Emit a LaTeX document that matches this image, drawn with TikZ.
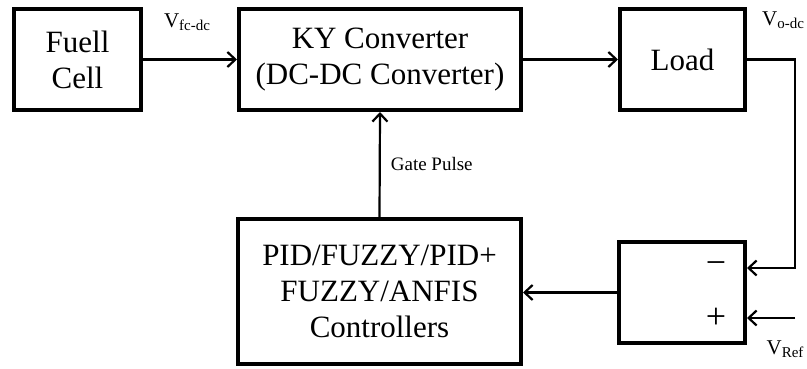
\documentclass[tikz,border=0pt]{standalone}
\usepackage{fontspec}
\setmainfont{Liberation Serif}
\usetikzlibrary{arrows.meta}

\newcommand{\sig}[2]{#1\raisebox{-0.35ex}{\fontsize{15}{15}\selectfont #2}}

\begin{document}
\begin{tikzpicture}[x=1pt, y=-1pt,
    block/.style={draw, line width=4pt, inner sep=0pt, align=center, font=\fontsize{31}{36}\selectfont},
    signal/.style={line width=2.2pt, -{Straight Barb[length=8pt, width=15pt, line width=2.2pt]}},
    lbl/.style={font=\fontsize{19}{22}\selectfont, inner sep=0pt},
    vlbl/.style={font=\fontsize{21}{22}\selectfont, inner sep=0pt},
    sign/.style={font=\fontsize{36}{36}\selectfont, inner sep=0pt}]
        \useasboundingbox (0,0) rectangle (807,369);
        % Blocks
        \node[block, minimum width=127, minimum height=101] (fuel) at (77.5,59.5) {Fuell\\Cell};
        \node[block, minimum width=282, minimum height=101] (ky) at (380,59.5) {KY Converter\\(DC-DC Converter)};
        \node[block, minimum width=125, minimum height=101] (load) at (682.5,59.5) {Load};
        \node[block, minimum width=126, minimum height=101] (sum) at (682,292.5) {};
        \node[block, minimum width=283, minimum height=145] (ctrl) at (379.5,291.5) {PID/FUZZY/PID+\\FUZZY/ANFIS\\Controllers};
        % Signs
        \node[sign] (minus) at (716,268) {−};
        \node[sign] (plus) at (716,318) {+};
        % Branch points
        \coordinate (fb) at (795,268);
        \coordinate (ref) at (795,318);
        % Signals
        \draw[signal] (fuel.east) -- (ky.west);
        \draw[signal] (ky.east) -- (load.west);
        \draw[signal] (load.east) -| (fb) -- (sum.east |- fb);
        \draw[signal] (ref) -- (sum.east |- ref);
        \draw[signal] (sum.west) -- (sum.west -| ctrl.east);
        \draw[signal] (ctrl.north) -- node[lbl, right=10pt] (gate) {Gate Pulse} (ky.south);
        % Labels
        \node[vlbl] (vfc) at (187,22) {\sig{V}{fc-dc}};
        \node[vlbl] (vo) at (783,20) {\sig{V}{o-dc}};
        \node[vlbl] (vref) at (785,349) {\sig{V}{Ref}};
    \end{tikzpicture}
\end{document}
